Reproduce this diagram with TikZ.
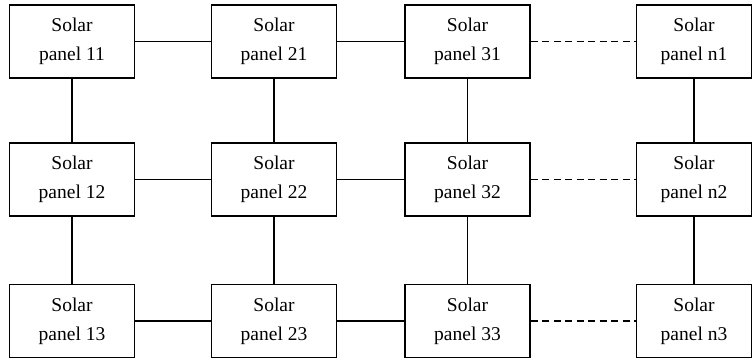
\documentclass[tikz,border=0pt]{standalone}
\usepackage{fontspec}
\setmainfont{Liberation Serif}
\begin{document}
\begin{tikzpicture}[x=1pt,y=-1pt,
  panel/.style={draw, line width=1.1pt, minimum width=125pt, minimum height=73pt,
    inner sep=0pt, align=center, font=\fontsize{19.5pt}{29pt}\selectfont},
  panelend/.style={panel, minimum width=115pt},
  link/.style={line width=1.1pt},
  dlink/.style={line width=1.1pt, dash pattern=on 7pt off 4.5pt}]
\useasboundingbox (0,0) rectangle (752,362);
\foreach \r/\y in {1/41.5, 2/179.5, 3/321} {
  \node[panel] (p1\r) at (72,\y) {Solar\\panel 1\r};
  \node[panel] (p2\r) at (274,\y) {Solar\\panel 2\r};
  \node[panel] (p3\r) at (467.5,\y) {Solar\\panel 3\r};
  \node[panelend] (pn\r) at (694,\y) {Solar\\panel n\r};
  \draw[link] (p1\r) -- (p2\r);
  \draw[link] (p2\r) -- (p3\r);
  \draw[dlink] (p3\r) -- (pn\r);
}
\foreach \c in {1,2,3,n} {
  \draw[link] (p\c1) -- (p\c2);
  \draw[link] (p\c2) -- (p\c3);
}
\end{tikzpicture}
\end{document}
